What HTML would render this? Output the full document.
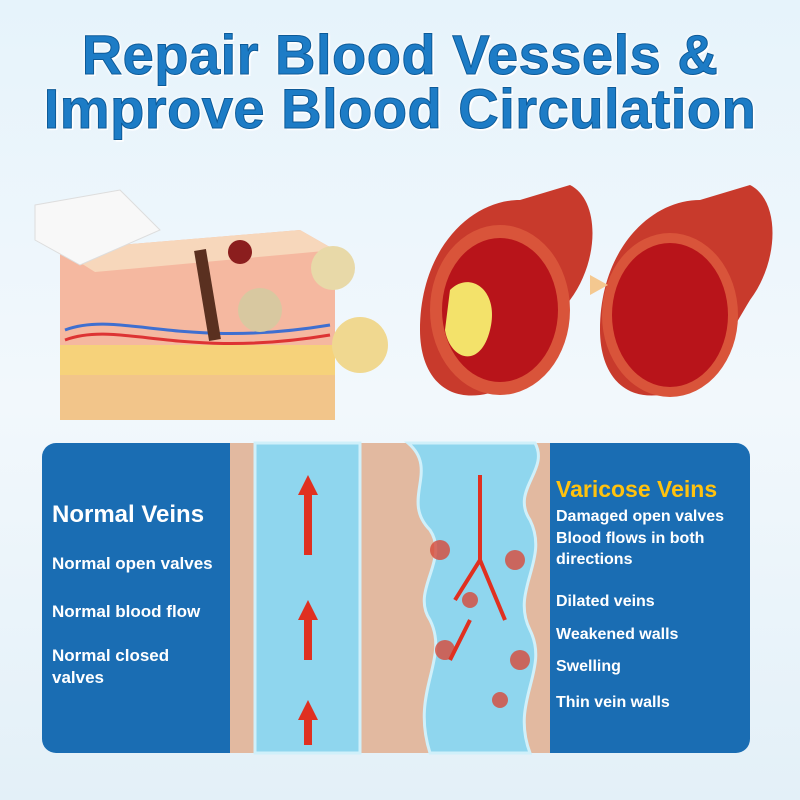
<!DOCTYPE html>
<html><head><meta charset="utf-8"><style>
*{margin:0;padding:0}
body{width:800px;height:800px;overflow:hidden;background:linear-gradient(#e6f3fb,#f2f8fc 50%,#e3f0f8);font-family:"Liberation Sans",sans-serif;position:relative}
.t{position:absolute;left:0;width:800px;text-align:center;font-weight:bold;font-size:56px;letter-spacing:0.5px;color:#1d7cc6;-webkit-text-stroke:1px #0d5a98;text-shadow:0 0 4px #fff,0 0 4px #fff,2px 2px 0 #fff}
.w{position:absolute;color:#fff;font-weight:bold;font-size:17px;line-height:22px}
</style></head><body>
<div class="t" style="top:22px">Repair Blood Vessels &amp;</div>
<div class="t" style="top:76px">Improve Blood Circulation</div>

<svg style="position:absolute;left:0;top:0" width="800" height="800">
<polygon points="60,250 300,230 335,250 335,400 320,420 75,420 60,400" fill="#f5b8a0"/>
<polygon points="60,250 300,230 335,250 95,272" fill="#f7d7bb"/>
<rect x="60" y="345" width="275" height="30" fill="#f6d27a"/>
<rect x="60" y="375" width="275" height="45" fill="#f2c58a"/>
<path d="M65,330 C120,310 180,350 330,325" stroke="#3f6fd0" stroke-width="3" fill="none"/>
<path d="M65,340 C120,320 180,360 330,335" stroke="#d33" stroke-width="3" fill="none"/>
<path d="M200,250 L215,340" stroke="#5a3020" stroke-width="12"/>
<polygon points="35,205 120,190 160,230 80,265 35,240" fill="#f8f8f8" stroke="#ddd"/>
<circle cx="333" cy="268" r="22" fill="#e8d9a8"/>
<circle cx="260" cy="310" r="22" fill="#d8c8a0"/>
<circle cx="360" cy="345" r="28" fill="#f0d890"/>
<circle cx="240" cy="252" r="12" fill="#8b1e1e"/>
<path d="M420,330 C420,250 470,200 520,200 L570,185 C600,200 600,260 570,300 C540,350 520,390 480,395 C440,400 420,370 420,330Z" fill="#c83a2c"/>
<ellipse cx="500" cy="310" rx="70" ry="85" fill="#d9543a"/>
<ellipse cx="500" cy="310" rx="58" ry="72" fill="#b8141a"/>
<path d="M450,290 C470,270 500,290 490,330 C480,370 450,360 445,330Z" fill="#f3e26a"/>
<path d="M600,330 C600,250 650,200 700,200 L750,185 C780,200 780,260 750,300 C720,350 700,390 660,395 C620,400 600,370 600,330Z" fill="#c83a2c"/>
<ellipse cx="670" cy="315" rx="68" ry="82" fill="#d9543a"/>
<ellipse cx="670" cy="315" rx="58" ry="72" fill="#b8141a"/>
<polygon points="590,275 608,285 590,295" fill="#f4c890"/>
<rect x="42" y="443" width="708" height="310" rx="14" fill="#1a6db3"/>
<rect x="230" y="443" width="320" height="310" fill="#e2b9a0"/>
<rect x="255" y="443" width="105" height="310" fill="#8fd6ee" stroke="#d0f0fa" stroke-width="3"/>
<path d="M408,443 C440,470 400,500 430,530 C450,560 410,590 430,620 C450,660 410,690 430,753 L530,753 C510,700 550,670 530,630 C510,590 550,560 530,520 C510,490 550,470 535,443Z" fill="#8fd6ee" stroke="#d0f0fa" stroke-width="3"/>
<g fill="#e03020">
<polygon points="308,475 298,495 304,495 304,555 312,555 312,495 318,495"/>
<polygon points="308,600 298,620 304,620 304,660 312,660 312,620 318,620"/>
<polygon points="308,700 298,720 304,720 304,745 312,745 312,720 318,720"/>
</g>
<g fill="#d84a3a" opacity=".8">
<circle cx="440" cy="550" r="10"/><circle cx="515" cy="560" r="10"/><circle cx="445" cy="650" r="10"/><circle cx="520" cy="660" r="10"/><circle cx="470" cy="600" r="8"/><circle cx="500" cy="700" r="8"/>
</g>
<path d="M480,475 L480,560 L455,600 M480,560 L505,620 M470,620 L450,660" stroke="#e03020" stroke-width="4" fill="none"/>
</svg>

<div class="w" style="left:52px;top:504px;font-size:24px">Normal Veins</div>
<div class="w" style="left:52px;top:553px">Normal open valves</div>
<div class="w" style="left:52px;top:601px">Normal blood flow</div>
<div class="w" style="left:52px;top:645px">Normal closed<br>valves</div>
<div class="w" style="left:556px;top:478px;font-size:23px;color:#ffc20e">Varicose Veins</div>
<div class="w" style="left:556px;top:506px;font-size:16px;line-height:21.5px">Damaged open valves<br>Blood flows in both<br>directions</div>
<div class="w" style="left:556px;top:591px;font-size:16px">Dilated veins</div>
<div class="w" style="left:556px;top:624px;font-size:16px">Weakened walls</div>
<div class="w" style="left:556px;top:656px;font-size:16px">Swelling</div>
<div class="w" style="left:556px;top:692px;font-size:16px">Thin vein walls</div>
</body></html>
